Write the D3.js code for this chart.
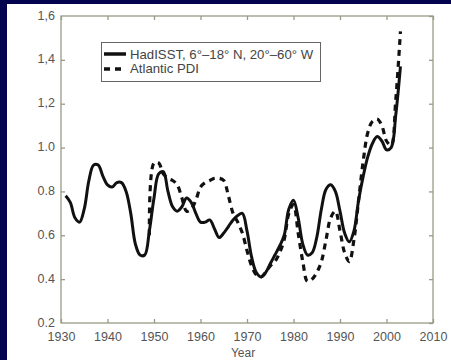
<!DOCTYPE html>
<html><head><meta charset="utf-8">
<script src="https://cdn.jsdelivr.net/npm/d3@7"></script>
<style>html,body{margin:0;padding:0;background:#03034f;}svg{display:block;}</style>
</head><body>
<svg id="chart" width="451" height="360"></svg>
<script>
const sstYears = d3.range(1931, 2004);
const sstValues = [0.78,0.75,0.68,0.66,0.72,0.85,0.92,0.92,0.87,0.83,
  0.82,0.84,0.84,0.80,0.70,0.56,0.51,0.51,0.62,0.77,
  0.88,0.89,0.80,0.73,0.71,0.73,0.77,0.75,0.70,0.66,
  0.66,0.67,0.63,0.59,0.61,0.64,0.67,0.69,0.70,0.62,
  0.50,0.43,0.41,0.43,0.47,0.51,0.55,0.60,0.72,0.76,
  0.68,0.56,0.51,0.52,0.59,0.72,0.81,0.83,0.80,0.71,
  0.61,0.57,0.62,0.76,0.87,0.96,1.02,1.05,1.03,0.99,
  1.00,1.15,1.37];
const pdiYears = d3.range(1949, 2004);
const pdiValues = [0.60,0.93,0.93,0.88,0.86,0.85,0.83,0.77,0.71,0.72,
  0.76,0.82,0.84,0.85,0.86,0.86,0.85,0.78,0.70,0.66,
  0.61,0.53,0.46,0.42,0.41,0.43,0.46,0.48,0.52,0.58,
  0.70,0.74,0.61,0.48,0.39,0.40,0.43,0.48,0.58,0.68,
  0.71,0.62,0.52,0.48,0.58,0.76,0.94,1.07,1.12,1.13,
  1.10,1.03,1.01,1.22,1.53];
const xTicks = [1930,1940,1950,1960,1970,1980,1990,2000,2010];
const yTicks = [0.2,0.4,0.6,0.8,1.0,1.2,1.4,1.6];
const yTickLabels = ["0.2","0.4","0.6","0.8","1.0","1,2","1,4","1,6"];
const seriesNames = ["HadISST, 6°–18° N, 20°–60° W", "Atlantic PDI"];

const svg = d3.select("#chart");
svg.append("rect").attr("x",0).attr("y",0).attr("width",451).attr("height",360).attr("fill","#03034f");
svg.append("rect").attr("x",7).attr("y",4).attr("width",444).attr("height",356).attr("fill","#ffffff");

const L=61, R=433, T=16, B=323;
const x = d3.scaleLinear().domain([1930,2010]).range([L,R]);
const y = d3.scaleLinear().domain([0.2,1.6]).range([B,T]);
const axisColor = "#9a9a86";
const labelColor = "#555555";
const font = "Liberation Sans, Arial, sans-serif";

svg.append("rect").attr("x",L).attr("y",T).attr("width",R-L).attr("height",B-T)
  .attr("fill","none").attr("stroke",axisColor).attr("stroke-width",1.3);

const gx = svg.append("g").attr("transform",`translate(0,${B})`)
  .call(d3.axisBottom(x).tickValues(xTicks).tickFormat(d3.format("d")).tickSizeInner(-4).tickSizeOuter(0).tickPadding(9));
const gxTop = svg.append("g").attr("transform",`translate(0,${T})`)
  .call(d3.axisTop(x).tickValues(xTicks).tickFormat("").tickSizeInner(-4).tickSizeOuter(0));
const gy = svg.append("g").attr("transform",`translate(${L},0)`)
  .call(d3.axisLeft(y).tickValues(yTicks).tickFormat((d,i)=>yTickLabels[i]).tickSizeInner(-4).tickSizeOuter(0).tickPadding(6));
const gyR = svg.append("g").attr("transform",`translate(${R},0)`)
  .call(d3.axisRight(y).tickValues(yTicks).tickFormat("").tickSizeInner(-4).tickSizeOuter(0));
[gx,gxTop,gy,gyR].forEach(g=>{
  g.select(".domain").remove();
  g.selectAll(".tick line").attr("stroke",axisColor).attr("stroke-width",1.3);
  g.selectAll("text").attr("fill",labelColor).attr("font-family",font).attr("font-size",12.5);
});
gy.selectAll(".tick text").attr("dy","0.25em");
gy.selectAll(".tick").filter(d=>d===0.2||d===1.6).select("line").remove();

svg.append("text").attr("x",243).attr("y",357).attr("text-anchor","middle")
  .attr("fill",labelColor).attr("font-family",font).attr("font-size",12).text("Year");

const line = d3.line().x(d=>x(d[0])).y(d=>y(d[1])).curve(d3.curveCatmullRom.alpha(0.5));
svg.append("path").datum(pdiYears.map((yr,i)=>[yr,pdiValues[i]]))
  .attr("d",line).attr("fill","none").attr("stroke","#111").attr("stroke-width",3.2)
  .attr("stroke-dasharray","6,5");
svg.append("path").datum(sstYears.map((yr,i)=>[yr,sstValues[i]]))
  .attr("d",line).attr("fill","none").attr("stroke","#111").attr("stroke-width",3)
  .attr("stroke-linejoin","round");

const lg = svg.append("g");
lg.append("rect").attr("x",101.5).attr("y",42.5).attr("width",219).attr("height",39)
  .attr("fill","#fff").attr("stroke","#666").attr("stroke-width",1);
lg.append("line").attr("x1",104).attr("x2",126).attr("y1",54).attr("y2",54)
  .attr("stroke","#111").attr("stroke-width",3.5);
lg.append("line").attr("x1",104).attr("x2",126).attr("y1",69).attr("y2",69)
  .attr("stroke","#111").attr("stroke-width",3.5).attr("stroke-dasharray","6,5");
lg.append("text").attr("x",130).attr("y",58.5).attr("fill","#444").attr("font-family",font)
  .attr("font-size",13.2).text(seriesNames[0]);
lg.append("text").attr("x",130).attr("y",73).attr("fill","#444").attr("font-family",font)
  .attr("font-size",13.2).text(seriesNames[1]);
</script>
</body></html>
